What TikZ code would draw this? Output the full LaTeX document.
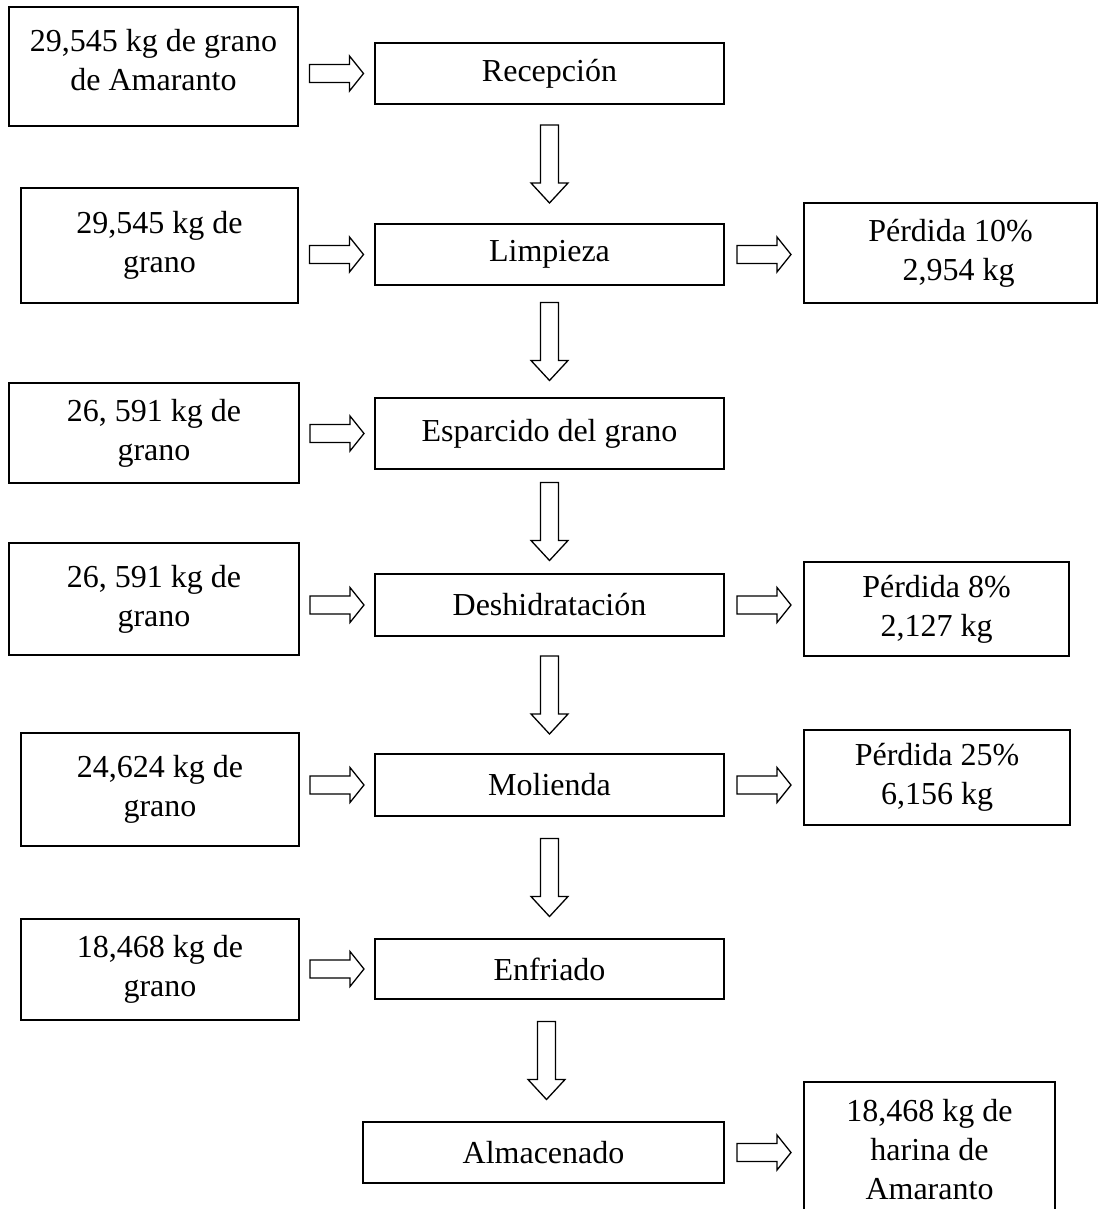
\documentclass[tikz,border=0pt]{standalone}
\usepackage{fontspec}
\setmainfont{Liberation Serif}
\usetikzlibrary{calc,positioning}
\tikzset{every node/.style={draw, line width=1.3pt, inner sep=0pt, align=center,
  font=\fontsize{32}{39}\selectfont},
mass/.style={minimum width=#1},
proc/.style={minimum width=349, minimum height=61},
hblock/.style={line width=1.3pt, to path={let \p3=($(\tikztostart)!.5!(\tikztotarget)$) in
  (\x3-27pt,\y3+9pt) -- (\x3+13pt,\y3+9pt) -- (\x3+13pt,\y3+17.5pt) -- (\x3+27pt,\y3)
  -- (\x3+13pt,\y3-17.5pt) -- (\x3+13pt,\y3-9pt) -- (\x3-27pt,\y3-9pt) -- cycle}},
vblock/.style={line width=1.3pt, to path={let \p3=($(\tikztostart)!.5!(\tikztotarget)$) in
  (\x3-9pt,\y3+39pt) -- (\x3+9pt,\y3+39pt) -- (\x3+9pt,\y3-19pt) -- (\x3+18.5pt,\y3-19pt)
  -- (\x3,\y3-39pt) -- (\x3-18.5pt,\y3-19pt) -- (\x3-9pt,\y3-19pt) -- cycle}}}
\begin{document}
\begin{tikzpicture}[x=1pt, y=-1pt]
  \useasboundingbox (0,0) rectangle (1104,1209);
  % entradas
  \node[mass=289, minimum height=119, text depth=13pt] (in1) at (153.5,66.5) {29,545 kg de grano\\de Amaranto};
  \node[mass=277, minimum height=115] (in2) at (159.5,245.5) {29,545 kg de\\grano};
  \node[mass=290, minimum height=100] (in3) at (154,433) {26, 591 kg de\\grano};
  \node[mass=290, minimum height=112] (in4) at (154,599) {26, 591 kg de\\grano};
  \node[mass=278, minimum height=113] (in5) at (160,789.5) {24,624 kg de\\grano};
  \node[mass=278, minimum height=101] (in6) at (160,969.5) {18,468 kg de\\grano};
  % proceso
  \node[proc] (rec) at (549.5,73.5) {Recepción};
  \node[proc] (lim) at (549.5,254.5) {Limpieza};
  \node[proc, minimum height=71] (esp) at (549.5,433.5) {Esparcido del grano};
  \node[proc, minimum height=62] (des) at (549.5,605) {Deshidratación};
  \node[proc, minimum height=62] (mol) at (549.5,785) {Molienda};
  \node[proc, minimum height=60] (enf) at (549.5,969) {Enfriado};
  \node[proc, minimum width=361] (alm) at (543.5,1152.5) {Almacenado};
  % salidas
  \node[mass=293, minimum height=100] (out1) at (950.5,253) {Pérdida 10\%\\\hspace{0.5em}2,954 kg};
  \node[mass=265, minimum height=94] (out2) at (936.5,609) {Pérdida 8\%\\2,127 kg};
  \node[mass=266, minimum height=95] (out3) at (937,777.5) {Pérdida 25\%\\6,156 kg};
  \node[mass=251, minimum height=136] (out4) at (929.5,1150) {18,468 kg de\\harina de\\Amaranto};
  \foreach \a/\b in {in1/rec, in2/lim, in3/esp, in4/des, in5/mol, in6/enf}
    \draw[hblock] (\a.east |- \b.west) to (\b.west);
  \foreach \a/\b in {lim/out1, des/out2, mol/out3, alm/out4}
    \draw[hblock] (\a.east) to (\a.east -| \b.west);
  \foreach \a/\b in {rec/lim, lim/esp, esp/des, des/mol, mol/enf, enf/alm}
    \draw[vblock] (\a.south) to (\b.north);
\end{tikzpicture}
\end{document}
